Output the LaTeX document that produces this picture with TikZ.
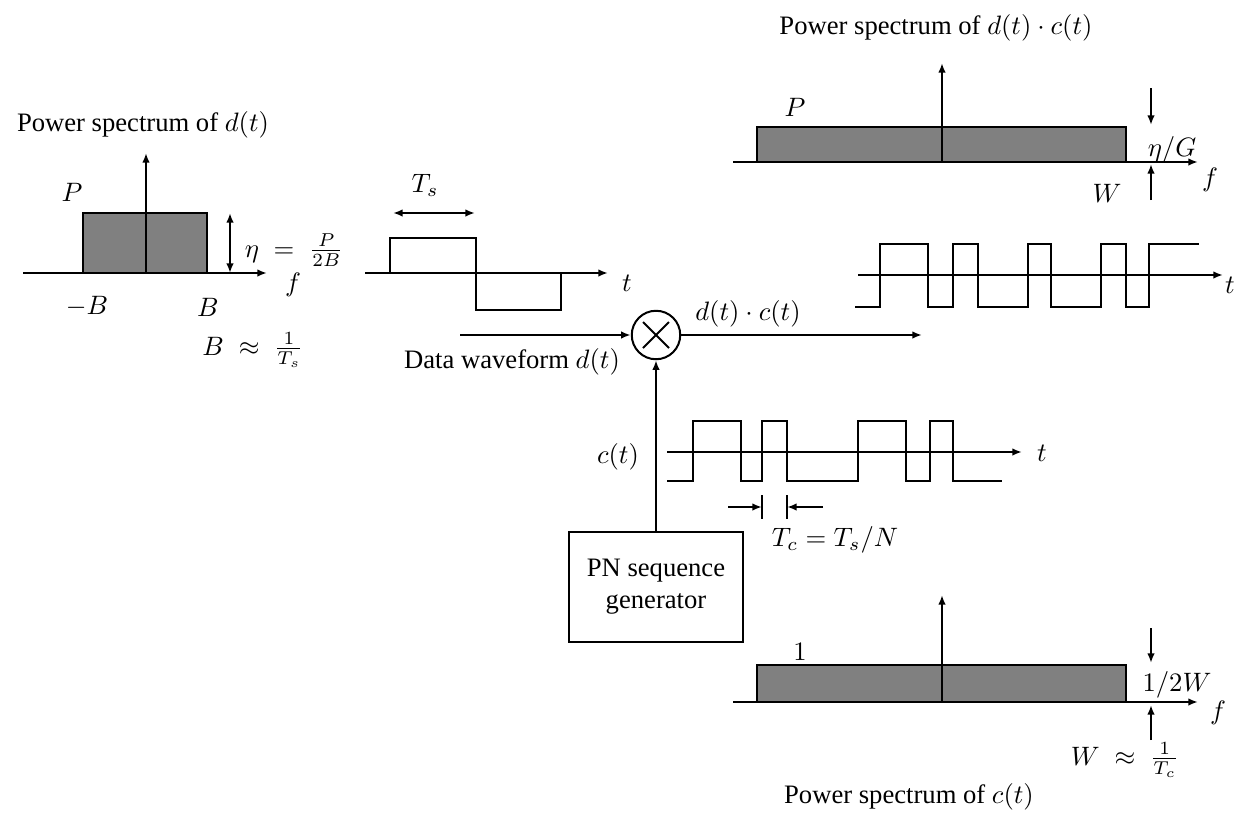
\documentclass[tikz,border=0pt]{standalone}
\usepackage{fontspec}
\setmainfont{Liberation Serif}
\usetikzlibrary{arrows.meta,positioning}
\tikzset{>={Latex[length=3.6pt,width=2.8pt]}}

\begin{document}
\begin{tikzpicture}[x=0.0132cm,y=-0.0132cm,line width=0.75pt,
  spec/.style={draw,fill=gray}]
  \useasboundingbox (0,0) rectangle (1236,813);

  % spectrum of d(t)
  \node at (143,125) {Power spectrum of $d(t)$};
  \draw[spec] (83,273) rectangle (207,213);
  \draw[arrows=->] (23,273) -- (267,273);
  \draw[arrows=->] (146,273) -- (146,153);
  \draw[arrows=<->] (230,213) -- (230,273);
  \node at (72,192) {$P$};
  \node at (294,250) {$\eta\;=\;\frac{P}{2B}$};
  \node at (293,285) {$f$};
  \node at (87,307) {$-B$};
  \node at (208,307) {$B$};
  \node at (253,350) {$B\;\approx\;\frac{1}{T_s}$};

  % data waveform
  \node at (425,185) {$T_s$};
  \draw[arrows=<->] (393,213) -- (475,213);
  \draw[arrows=->] (365,273) -- (608,273);
  \draw (390,273) |- (476,238) |- (561,310) -- (561,273);
  \node at (627,283) {$t$};

  % modulator
  \node[draw,circle,minimum size=0.64cm,inner sep=0pt] (mult) at (656,335) {};
  \draw ([shift={(-13,-13)}]mult.center) -- ([shift={(13,13)}]mult.center)
        ([shift={(-13,13)}]mult.center) -- ([shift={(13,-13)}]mult.center);
  \coordinate (din) at (460,335);
  \coordinate (dout) at (922,335);
  \draw[arrows=->] (din) -- (mult);
  \draw[arrows=->] (mult) -- (dout);
  \node at (512,362) {Data waveform $d(t)$};
  \node at (748,314) {$d(t)\cdot c(t)$};

  \node[draw,minimum width=2.3cm,minimum height=1.45cm,align=center] (pngen) at (656,587) {PN sequence\\generator};
  \draw[arrows=->] (pngen) -- (mult);

  % c(t)
  \node at (618,457) {$c(t)$};
  \draw[arrows=->] (667,452) -- (1022,452);
  \draw (667,481) -| (693,421) -| (741,481) -| (762,421) -| (787,481) -| (858,421)
        -| (906,481) -| (930,421) -| (953,481) -- (1002,481);
  \node at (1042,453) {$t$};
  \draw[arrows=->] (728,507) -- (762,507);
  \draw[arrows=->] (823,507) -- (787,507);
  \draw (762,495) -- (762,519) (787,495) -- (787,519);
  \node at (835,540) {$T_c = T_s/N$};

  % spectrum of d(t)c(t)
  \node at (936,28) {Power spectrum of $d(t)\cdot c(t)$};
  \draw[spec] (757,162) rectangle (1126,127);
  \draw[arrows=->] (733,162) -- (1198,162);
  \draw[arrows=->] (942,162) -- (942,63);
  \draw[arrows=->] (1151,88) -- (1151,125);
  \draw[arrows=->] (1151,200) -- (1151,164);
  \node at (795,107) {$P$};
  \node at (1172,150) {$\eta/G$};
  \node at (1210,180) {$f$};
  \node at (1107,193) {$W$};

  % d(t)c(t)
  \draw[arrows=->] (858,275) -- (1223,275);
  \draw (855,307) -| (880,244) -| (928,307) -| (953,244) -| (978,307) -| (1028,244)
        -| (1051,307) -| (1101,244) -| (1126,307) -| (1149,244) -- (1199,244);
  \node at (1230,285) {$t$};

  % spectrum of c(t)
  \draw[spec] (757,702) rectangle (1126,665);
  \draw[arrows=->] (733,702) -- (1198,702);
  \draw[arrows=->] (942,702) -- (942,595);
  \draw[arrows=->] (1151,628) -- (1151,663);
  \draw[arrows=->] (1151,740) -- (1151,705);
  \node at (800,652) {$1$};
  \node at (1177,685) {$1/2W$};
  \node at (1218,713) {$f$};
  \node at (1125,760) {$W\;\approx\;\frac{1}{T_c}$};
  \node at (909,797) {Power spectrum of $c(t)$};
\end{tikzpicture}
\end{document}
